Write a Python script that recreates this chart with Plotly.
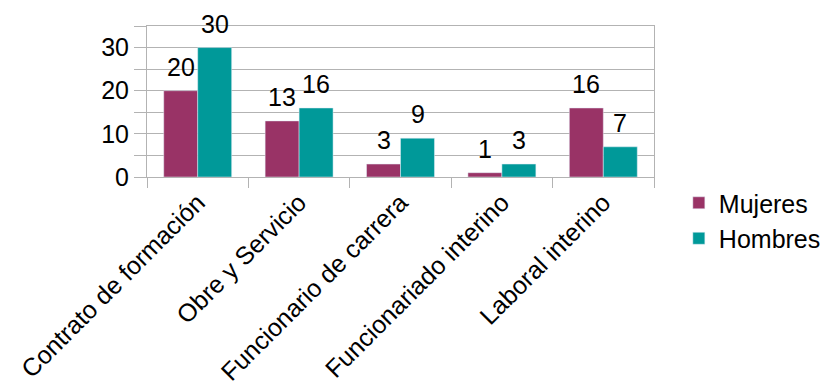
import plotly.graph_objects as go

categories = ["Contrato de formación", "Obre y Servicio", "Funcionario de carrera",
              "Funcionariado interino", "Laboral interino"]
mujeres = [20, 13, 3, 1, 16]
hombres = [30, 16, 9, 3, 7]

FONT = "Liberation Sans, Arial, sans-serif"
GRID = "#b3b3b3"
FS = 25

fig = go.Figure()
fig.add_trace(go.Bar(name="Mujeres", x=categories, y=mujeres, marker_color="#993366"))
fig.add_trace(go.Bar(name="Hombres", x=categories, y=hombres, marker_color="#009999"))

annotations = []
for vals, shift in ((mujeres, -17), (hombres, 17)):
    for c, v in zip(categories, vals):
        annotations.append(dict(x=c, y=v, xref="x", yref="y", text=str(v),
                                showarrow=False, xshift=shift, yshift=8,
                                yanchor="bottom", xanchor="center",
                                font=dict(size=FS, family=FONT, color="black")))

fig.update_layout(
    width=822, height=387,
    margin=dict(l=147, r=168, t=26, b=210, autoexpand=False),
    paper_bgcolor="white", plot_bgcolor="white",
    barmode="group", bargap=0.33, bargroupgap=0,
    font=dict(family=FONT, size=FS, color="black"),
    showlegend=True,
    annotations=annotations,
    legend=dict(x=1.049, y=-0.02, xanchor="left", yanchor="top",
                font=dict(size=FS, family=FONT), itemwidth=30,
                tracegroupgap=0, bgcolor="rgba(0,0,0,0)"),
    xaxis=dict(type="category", tickangle=-45, showgrid=False, showline=True,
               linecolor=GRID, linewidth=1, mirror=True, ticks="outside",
               tickson="boundaries", ticklen=10, tickcolor=GRID,
               tickfont=dict(size=FS, family=FONT)),
    yaxis=dict(range=[0, 35], tickmode="linear", tick0=0, dtick=10,
               showgrid=True, gridcolor=GRID, showline=True, linecolor=GRID,
               mirror=True, ticks="outside", ticklen=12, tickcolor=GRID,
               zeroline=False, tickfont=dict(size=FS, family=FONT),
               minor=dict(dtick=5, showgrid=True, gridcolor=GRID,
                          ticks="outside", ticklen=12, tickcolor=GRID)),
)

fig.write_html("out.html")
